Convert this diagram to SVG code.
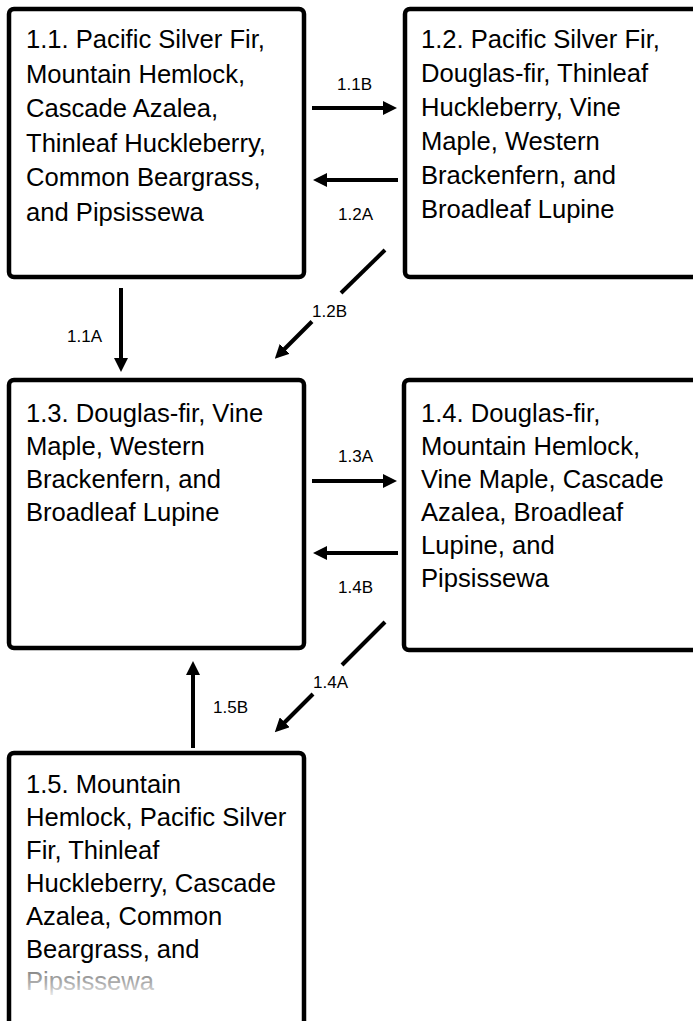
<svg xmlns="http://www.w3.org/2000/svg" width="693" height="1021" viewBox="0 0 693 1021">
<style>
.box{fill:#fff;stroke:#000;stroke-width:4.5}
.t{font-family:"Liberation Sans",Arial,sans-serif;font-size:25.6px;fill:#000}
.lbl{font-family:"Liberation Sans",Arial,sans-serif;font-size:17px;fill:#000}
.c{stroke:#000;stroke-width:4;fill:none}
.ca{stroke:#000;stroke-width:4;fill:none;marker-end:url(#ah)}
</style>
<defs>
<marker id="ah" markerUnits="userSpaceOnUse" markerWidth="14" markerHeight="14" refX="1" refY="7" orient="auto" viewBox="0 0 14 14">
<path d="M0,0 L14,7 L0,14 z" fill="#000"/>
</marker>
<linearGradient id="fade" x1="0" y1="0" x2="0" y2="1">
<stop offset="0" stop-color="#7a7a7a"/>
<stop offset="0.6" stop-color="#b0b0b0"/>
<stop offset="1" stop-color="#e6e6e6"/>
</linearGradient>
</defs>
<rect width="693" height="1021" fill="#fff"/>
<g id="node-1-1">
<rect class="box" x="9" y="9" width="295" height="268" rx="5"/>
<text class="t" x="26" y="48">1.1. Pacific Silver Fir,</text>
<text class="t" x="26" y="82.5">Mountain Hemlock,</text>
<text class="t" x="26" y="117">Cascade Azalea,</text>
<text class="t" x="26" y="151.5">Thinleaf Huckleberry,</text>
<text class="t" x="26" y="186">Common Beargrass,</text>
<text class="t" x="26" y="220.5">and Pipsissewa</text>
</g>
<g id="node-1-2">
<rect class="box" x="405" y="9" width="310" height="268" rx="5"/>
<text class="t" x="421" y="48">1.2. Pacific Silver Fir,</text>
<text class="t" x="421" y="82">Douglas-fir, Thinleaf</text>
<text class="t" x="421" y="116">Huckleberry, Vine</text>
<text class="t" x="421" y="150">Maple, Western</text>
<text class="t" x="421" y="184">Brackenfern, and</text>
<text class="t" x="421" y="218">Broadleaf Lupine</text>
</g>
<g id="node-1-3">
<rect class="box" x="9" y="380" width="295" height="268" rx="5"/>
<text class="t" x="26" y="422">1.3. Douglas-fir, Vine</text>
<text class="t" x="26" y="455">Maple, Western</text>
<text class="t" x="26" y="488">Brackenfern, and</text>
<text class="t" x="26" y="521">Broadleaf Lupine</text>
</g>
<g id="node-1-4">
<rect class="box" x="404" y="380" width="310" height="270" rx="5"/>
<text class="t" x="421" y="422">1.4. Douglas-fir,</text>
<text class="t" x="421" y="455">Mountain Hemlock,</text>
<text class="t" x="421" y="488">Vine Maple, Cascade</text>
<text class="t" x="421" y="521">Azalea, Broadleaf</text>
<text class="t" x="421" y="554">Lupine, and</text>
<text class="t" x="421" y="587">Pipsissewa</text>
</g>
<g id="node-1-5">
<rect class="box" x="9" y="753" width="295" height="300" rx="5"/>
<text class="t" x="26" y="793">1.5. Mountain</text>
<text class="t" x="26" y="826">Hemlock, Pacific Silver</text>
<text class="t" x="26" y="859">Fir, Thinleaf</text>
<text class="t" x="26" y="892">Huckleberry, Cascade</text>
<text class="t" x="26" y="925">Azalea, Common</text>
<text class="t" x="26" y="958">Beargrass, and</text>
<text class="t" x="26" y="990" style="fill:url(#fade)">Pipsissewa</text>
</g>
<g id="connectors">
<line class="ca" x1="312" y1="108" x2="384" y2="108"/>
<text class="lbl" x="337" y="90">1.1B</text>
<line class="ca" x1="398" y1="180" x2="326" y2="180"/>
<text class="lbl" x="338" y="220">1.2A</text>
<line class="ca" x1="121" y1="288" x2="121" y2="359"/>
<text class="lbl" x="67" y="342">1.1A</text>
<line class="c" x1="385" y1="250" x2="341" y2="293"/>
<line class="ca" x1="312" y1="321.5" x2="284" y2="349.5"/>
<text class="lbl" x="312" y="317">1.2B</text>
<line class="ca" x1="312" y1="481" x2="384" y2="481"/>
<text class="lbl" x="338" y="462">1.3A</text>
<line class="ca" x1="398" y1="553" x2="326" y2="553"/>
<text class="lbl" x="338" y="593">1.4B</text>
<line class="c" x1="385" y1="622" x2="342" y2="665"/>
<line class="ca" x1="313" y1="694" x2="284" y2="723"/>
<text class="lbl" x="313" y="688">1.4A</text>
<line class="ca" x1="193" y1="748" x2="193" y2="674"/>
<text class="lbl" x="213" y="713">1.5B</text>
</g>
</svg>
